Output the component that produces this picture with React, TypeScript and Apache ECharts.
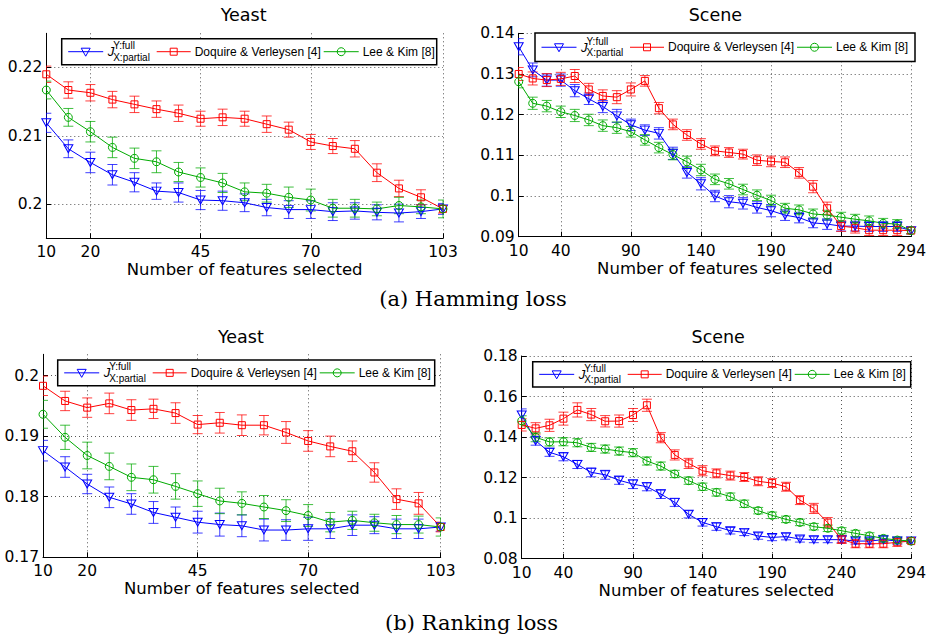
import React, { useEffect, useRef } from "react";
import * as echarts from "echarts";

// ---------- categories / tick labels ----------
const yeastX = ["10","15","20","25","30","35","40","45","50","55","60","65","70","75","80","85","90","95","103"];
const sceneX = ["10","20","30","40","50","60","70","80","90","100","110","120","130","140","150","160","170","180","190","200","210","220","230","240","250","260","270","280","294"];
const yeastTickLabels = ["10","20","45","70","103"];
const sceneTickLabels = ["10","40","90","140","190","240","294"];

const hyTicks = [0.2, 0.21, 0.22];
const hsTicks = [0.09, 0.1, 0.11, 0.12, 0.13, 0.14];
const ryTicks = [0.17, 0.18, 0.19, 0.2];
const rsTicks = [0.08, 0.1, 0.12, 0.14, 0.16, 0.18];

const seriesNames = ["J(Y:full, X:partial)", "Doquire & Verleysen [4]", "Lee & Kim [8]"];

// ---------- (a) Hamming loss, Yeast ----------
const hyJ = [0.2119,0.2081,0.2061,0.2043,0.2032,0.2019,0.2017,0.2006,0.2005,0.2002,0.1995,0.1992,0.1992,0.1989,0.1990,0.1988,0.1987,0.1989,0.1993];
const hyJErr = [0.0014,0.0013,0.0015,0.0015,0.0014,0.0012,0.0014,0.0014,0.0014,0.0013,0.0012,0.0013,0.0013,0.0013,0.0012,0.0011,0.0013,0.0010,0.0008];
const hyD = [0.2190,0.2167,0.2163,0.2153,0.2146,0.2139,0.2133,0.2125,0.2127,0.2125,0.2117,0.2109,0.2091,0.2085,0.2081,0.2046,0.2023,0.2010,0.1993];
const hyDErr = [0.0012,0.0012,0.0012,0.0012,0.0012,0.0012,0.0012,0.0011,0.0012,0.0011,0.0012,0.0011,0.0011,0.0011,0.0012,0.0013,0.0012,0.0011,0.0006];
const hyL = [0.2167,0.2127,0.2106,0.2083,0.2067,0.2062,0.2047,0.2039,0.2031,0.2018,0.2016,0.2010,0.2006,0.1994,0.1994,0.1993,0.1998,0.1996,0.1993];
const hyLErr = [0.0013,0.0013,0.0015,0.0015,0.0015,0.0016,0.0014,0.0014,0.0014,0.0013,0.0013,0.0015,0.0016,0.0013,0.0013,0.0010,0.0012,0.0010,0.0013];

// ---------- (a) Hamming loss, Scene ----------
const hsJ = [0.1367,0.1310,0.1285,0.1285,0.1259,0.1239,0.1220,0.1197,0.1175,0.1162,0.1154,0.1105,0.1058,0.1030,0.1000,0.0986,0.0982,0.0972,0.0964,0.0953,0.0947,0.0934,0.0931,0.0926,0.0926,0.0925,0.0925,0.0925,0.0915];
const hsJErr = [0.0020,0.0017,0.0015,0.0015,0.0015,0.0014,0.0015,0.0016,0.0014,0.0013,0.0014,0.0015,0.0014,0.0015,0.0014,0.0015,0.0014,0.0014,0.0015,0.0013,0.0013,0.0012,0.0013,0.0012,0.0012,0.0012,0.0012,0.0012,0.0008];
const hsD = [0.1300,0.1289,0.1285,0.1288,0.1295,0.1262,0.1246,0.1243,0.1262,0.1283,0.1216,0.1176,0.1150,0.1128,0.1111,0.1107,0.1103,0.1088,0.1085,0.1083,0.1057,0.1023,0.0970,0.0926,0.0922,0.0916,0.0916,0.0916,0.0915];
const hsDErr = [0.0016,0.0016,0.0016,0.0016,0.0016,0.0015,0.0015,0.0016,0.0016,0.0013,0.0014,0.0013,0.0013,0.0013,0.0012,0.0012,0.0012,0.0013,0.0013,0.0013,0.0013,0.0015,0.0015,0.0013,0.0013,0.0013,0.0013,0.0013,0.0008];
const hsL = [0.1281,0.1228,0.1221,0.1207,0.1198,0.1187,0.1173,0.1168,0.1158,0.1138,0.1119,0.1102,0.1084,0.1064,0.1041,0.1030,0.1016,0.1002,0.0989,0.0970,0.0966,0.0956,0.0953,0.0948,0.0943,0.0939,0.0933,0.0931,0.0915];
const hsLErr = [0.0015,0.0015,0.0014,0.0014,0.0015,0.0014,0.0014,0.0014,0.0013,0.0013,0.0013,0.0013,0.0014,0.0014,0.0013,0.0013,0.0013,0.0013,0.0013,0.0012,0.0012,0.0012,0.0012,0.0012,0.0012,0.0012,0.0012,0.0011,0.0008];

// ---------- (b) Ranking loss, Yeast ----------
const ryJ = [0.1876,0.1849,0.1821,0.1799,0.1788,0.1774,0.1766,0.1758,0.1754,0.1752,0.1745,0.1745,0.1747,0.1747,0.1753,0.1753,0.1747,0.1747,0.1750];
const ryJErr = [0.0017,0.0017,0.0016,0.0017,0.0017,0.0018,0.0017,0.0018,0.0019,0.0018,0.0018,0.0017,0.0019,0.0016,0.0017,0.0014,0.0016,0.0016,0.0007];
const ryD = [0.1983,0.1958,0.1947,0.1954,0.1943,0.1945,0.1938,0.1919,0.1922,0.1918,0.1918,0.1906,0.1892,0.1883,0.1875,0.1840,0.1796,0.1789,0.1750];
const ryDErr = [0.0016,0.0016,0.0016,0.0017,0.0017,0.0016,0.0017,0.0015,0.0017,0.0017,0.0016,0.0018,0.0017,0.0017,0.0017,0.0016,0.0017,0.0018,0.0008];
const ryL = [0.1936,0.1898,0.1868,0.1850,0.1832,0.1828,0.1817,0.1805,0.1793,0.1789,0.1783,0.1777,0.1769,0.1758,0.1761,0.1757,0.1754,0.1754,0.1750];
const ryLErr = [0.0023,0.0020,0.0022,0.0022,0.0022,0.0022,0.0021,0.0021,0.0021,0.0019,0.0019,0.0018,0.0018,0.0016,0.0015,0.0014,0.0015,0.0014,0.0015];

// ---------- (b) Ranking loss, Scene ----------
const rsJ = [0.1509,0.1382,0.1325,0.1303,0.1265,0.1226,0.1214,0.1187,0.1168,0.1155,0.1119,0.1078,0.1019,0.0979,0.0958,0.0938,0.0930,0.0912,0.0905,0.0909,0.0897,0.0894,0.0894,0.0894,0.0887,0.0887,0.0894,0.0887,0.0887];
const rsJErr = [0.0030,0.0022,0.0020,0.0020,0.0020,0.0022,0.0022,0.0020,0.0022,0.0020,0.0022,0.0020,0.0018,0.0018,0.0018,0.0016,0.0016,0.0016,0.0016,0.0016,0.0015,0.0015,0.0015,0.0015,0.0015,0.0015,0.0015,0.0015,0.0008];
const rsD = [0.1460,0.1443,0.1458,0.1491,0.1534,0.1511,0.1478,0.1479,0.1509,0.1557,0.1397,0.1312,0.1270,0.1234,0.1221,0.1210,0.1203,0.1182,0.1173,0.1155,0.1089,0.1048,0.0978,0.0895,0.0874,0.0874,0.0874,0.0881,0.0887];
const rsDErr = [0.0030,0.0028,0.0030,0.0032,0.0035,0.0030,0.0028,0.0030,0.0032,0.0030,0.0025,0.0025,0.0025,0.0025,0.0022,0.0022,0.0022,0.0022,0.0022,0.0022,0.0022,0.0025,0.0025,0.0020,0.0020,0.0020,0.0020,0.0020,0.0010];
const rsL = [0.1480,0.1399,0.1376,0.1377,0.1372,0.1349,0.1341,0.1331,0.1323,0.1282,0.1257,0.1218,0.1185,0.1155,0.1127,0.1106,0.1071,0.1037,0.1014,0.0994,0.0979,0.0958,0.0950,0.0938,0.0925,0.0913,0.0900,0.0892,0.0887];
const rsLErr = [0.0025,0.0022,0.0020,0.0020,0.0020,0.0020,0.0020,0.0020,0.0020,0.0020,0.0020,0.0018,0.0018,0.0018,0.0018,0.0018,0.0018,0.0016,0.0016,0.0016,0.0016,0.0016,0.0016,0.0015,0.0015,0.0015,0.0015,0.0015,0.0010];

const BLUE = "#0000ff";
const RED = "#ff0000";
const GREEN = "#00aa00";
const SANS = "DejaVu Sans";
const LSANS = "Liberation Sans";

type Panel = {
  title: string;
  cats: string[];
  tickLabels: string[];
  yMin: number;
  yMax: number;
  yTicks: number[];
  grid: { left: number; top: number; width: number; height: number };
  legend: { x: number; y: number; w: number; h: number };
  series: { vals: number[]; err: number[] }[];
};

const panels: Panel[] = [
  {
    title: "Yeast", cats: yeastX, tickLabels: yeastTickLabels, yMin: 0.195, yMax: 0.225, yTicks: hyTicks,
    grid: { left: 46.3, top: 33.3, width: 396.7, height: 205 },
    legend: { x: 61.7, y: 38.7, w: 375, h: 26 },
    series: [{ vals: hyJ, err: hyJErr }, { vals: hyD, err: hyDErr }, { vals: hyL, err: hyLErr }],
  },
  {
    title: "Scene", cats: sceneX, tickLabels: sceneTickLabels, yMin: 0.09, yMax: 0.14, yTicks: hsTicks,
    grid: { left: 518.7, top: 33.3, width: 395.3, height: 203.4 },
    legend: { x: 535, y: 33, w: 380, h: 28.5 },
    series: [{ vals: hsJ, err: hsJErr }, { vals: hsD, err: hsDErr }, { vals: hsL, err: hsLErr }],
  },
  {
    title: "Yeast", cats: yeastX, tickLabels: yeastTickLabels, yMin: 0.17, yMax: 0.2035, yTicks: ryTicks,
    grid: { left: 43, top: 354.3, width: 397.7, height: 203 },
    legend: { x: 57.7, y: 360, w: 377, h: 25.7 },
    series: [{ vals: ryJ, err: ryJErr }, { vals: ryD, err: ryDErr }, { vals: ryL, err: ryLErr }],
  },
  {
    title: "Scene", cats: sceneX, tickLabels: sceneTickLabels, yMin: 0.08, yMax: 0.18, yTicks: rsTicks,
    grid: { left: 521.7, top: 356, width: 395, height: 202.7 },
    legend: { x: 532.7, y: 361.7, w: 378, h: 25.3 },
    series: [{ vals: rsJ, err: rsJErr }, { vals: rsD, err: rsDErr }, { vals: rsL, err: rsLErr }],
  },
];

const colors = [BLUE, RED, GREEN];
const symbols = ["triangle", "rect", "circle"];
const symbolSizes: any[] = [[9, 8], 7, 8];
const symbolRotates = [180, 0, 0];

function errorBarSeries(idx: number, color: string, vals: number[], err: number[], name: string) {
  const data = vals.map((v, i) => [i, v - err[i], v + err[i]]);
  return {
    type: "custom",
    name: name + " error",
    xAxisIndex: idx,
    yAxisIndex: idx,
    clip: true,
    silent: true,
    z: 2,
    encode: { x: 0, y: [1, 2] },
    data,
    renderItem: (params: any, api: any) => {
      const xi = api.value(0);
      const lo = api.coord([xi, api.value(1)]);
      const hi = api.coord([xi, api.value(2)]);
      const w = 5;
      const style = { stroke: color, lineWidth: 1, opacity: 0.75 };
      return {
        type: "group",
        children: [
          { type: "line", shape: { x1: lo[0], y1: lo[1], x2: hi[0], y2: hi[1] }, style },
          { type: "line", shape: { x1: lo[0] - w, y1: lo[1], x2: lo[0] + w, y2: lo[1] }, style },
          { type: "line", shape: { x1: hi[0] - w, y1: hi[1], x2: hi[0] + w, y2: hi[1] }, style },
        ],
      };
    },
  };
}

function legendElements(L: { x: number; y: number; w: number; h: number }) {
  const cy = L.y + L.h / 2;
  const els: any[] = [];
  const z = 100;
  els.push({ type: "rect", z, shape: { x: L.x, y: L.y, width: L.w, height: L.h }, style: { fill: "#fff", stroke: "#000", lineWidth: 1.5 } });
  const bx = L.x;
  // blue
  els.push({ type: "line", z, shape: { x1: bx + 6.5, y1: cy, x2: bx + 41.5, y2: cy }, style: { stroke: BLUE, lineWidth: 1 } });
  els.push({ type: "polygon", z, shape: { points: [[bx + 19.5, cy - 3.5], [bx + 28.5, cy - 3.5], [bx + 24, cy + 4.5]] }, style: { fill: "none", stroke: BLUE, lineWidth: 1 } });
  els.push({ type: "text", z, x: bx + 46, y: cy, style: { text: "J", font: `italic 13px ${LSANS}`, fill: "#000", verticalAlign: "middle", align: "left" } });
  els.push({ type: "text", z, x: bx + 51.5, y: cy - 6, style: { text: "Y:full", font: `10px ${LSANS}`, fill: "#000", verticalAlign: "middle", align: "left" } });
  els.push({ type: "text", z, x: bx + 51.5, y: cy + 5.5, style: { text: "X:partial", font: `10px ${LSANS}`, fill: "#000", verticalAlign: "middle", align: "left" } });
  // red
  els.push({ type: "line", z, shape: { x1: bx + 95, y1: cy, x2: bx + 129, y2: cy }, style: { stroke: RED, lineWidth: 1 } });
  els.push({ type: "rect", z, shape: { x: bx + 108.5, y: cy - 3.5, width: 7, height: 7 }, style: { fill: "none", stroke: RED, lineWidth: 1 } });
  els.push({ type: "text", z, x: bx + 133, y: cy, style: { text: seriesNames[1], font: `12px ${LSANS}`, fill: "#000", verticalAlign: "middle", align: "left" } });
  // green
  els.push({ type: "line", z, shape: { x1: bx + 262, y1: cy, x2: bx + 297, y2: cy }, style: { stroke: GREEN, lineWidth: 1 } });
  els.push({ type: "circle", z, shape: { cx: bx + 279.5, cy, r: 4 }, style: { fill: "none", stroke: GREEN, lineWidth: 1 } });
  els.push({ type: "text", z, x: bx + 301, y: cy, style: { text: seriesNames[2], font: `12px ${LSANS}`, fill: "#000", verticalAlign: "middle", align: "left" } });
  return els;
}

function buildOption() {
  const grid: any[] = [];
  const xAxis: any[] = [];
  const yAxis: any[] = [];
  const series: any[] = [];
  const graphic: any[] = [];
  const dotted = { type: [1, 3], color: "#555", width: 1 };

  panels.forEach((p, idx) => {
    grid.push({ ...p.grid, containLabel: false });
    const showTick = (_i: number, v: string) => p.tickLabels.indexOf(v) >= 0;
    xAxis.push({
      type: "category",
      gridIndex: idx,
      data: p.cats,
      boundaryGap: false,
      axisLine: { show: true, onZero: false, lineStyle: { color: "#000", width: 1 } },
      axisTick: { show: true, inside: true, length: 5, interval: showTick, lineStyle: { color: "#000" } },
      axisLabel: { interval: showTick, color: "#000", fontFamily: SANS, fontSize: 15.5, margin: 6 },
      splitLine: { show: true, interval: showTick, lineStyle: dotted },
      name: "Number of features selected",
      nameLocation: "middle",
      nameGap: 21,
      nameTextStyle: { color: "#000", fontFamily: SANS, fontSize: 16.5 },
    });
    yAxis.push({
      type: "value",
      gridIndex: idx,
      min: p.yMin,
      max: p.yMax,
      axisLine: { show: true, lineStyle: { color: "#000", width: 1 } },
      axisTick: { show: true, inside: true, length: 5, customValues: p.yTicks, lineStyle: { color: "#000" } },
      axisLabel: { customValues: p.yTicks, color: "#000", fontFamily: SANS, fontSize: 15.5, margin: 4, formatter: (v: number) => String(v) },
      splitLine: { show: true, lineStyle: dotted },
    });
    p.series.forEach((s, k) => {
      series.push(errorBarSeries(idx, colors[k], s.vals, s.err, seriesNames[k]));
      series.push({
        type: "line",
        name: seriesNames[k],
        xAxisIndex: idx,
        yAxisIndex: idx,
        data: s.vals,
        symbol: symbols[k],
        symbolSize: symbolSizes[k],
        symbolRotate: symbolRotates[k],
        showSymbol: true,
        showAllSymbol: true,
        clip: true,
        silent: true,
        z: 3,
        lineStyle: { color: colors[k], width: 1 },
        itemStyle: { color: "rgba(255,255,255,0)", borderColor: colors[k], borderWidth: 1 },
      });
    });
    graphic.push({
      type: "text",
      x: p.grid.left + p.grid.width / 2 - 1,
      y: idx < 2 ? 15 : 337,
      style: { text: p.title, font: `17.5px ${SANS}`, fill: "#000", align: "center", verticalAlign: "middle" },
    });
    legendElements(p.legend).forEach((e) => graphic.push(e));
  });

  graphic.push({ type: "text", x: 473, y: 299, style: { text: "(a) Hamming loss", font: `21px 'DejaVu Serif'`, fill: "#000", align: "center", verticalAlign: "middle" } });
  graphic.push({ type: "text", x: 471.5, y: 622.5, style: { text: "(b) Ranking loss", font: `21px 'DejaVu Serif'`, fill: "#000", align: "center", verticalAlign: "middle" } });

  return {
    animation: false,
    backgroundColor: "#fff",
    grid,
    xAxis,
    yAxis,
    series,
    graphic,
  };
}

export default function App() {
  const ref = useRef<HTMLDivElement>(null);
  useEffect(() => {
    if (!ref.current) return;
    const chart = echarts.init(ref.current, null, { renderer: "svg" });
    chart.setOption(buildOption() as any);
    return () => chart.dispose();
  }, []);
  return <div ref={ref} style={{ position: "fixed", left: 0, top: 0, width: 929, height: 635 }} />;
}
